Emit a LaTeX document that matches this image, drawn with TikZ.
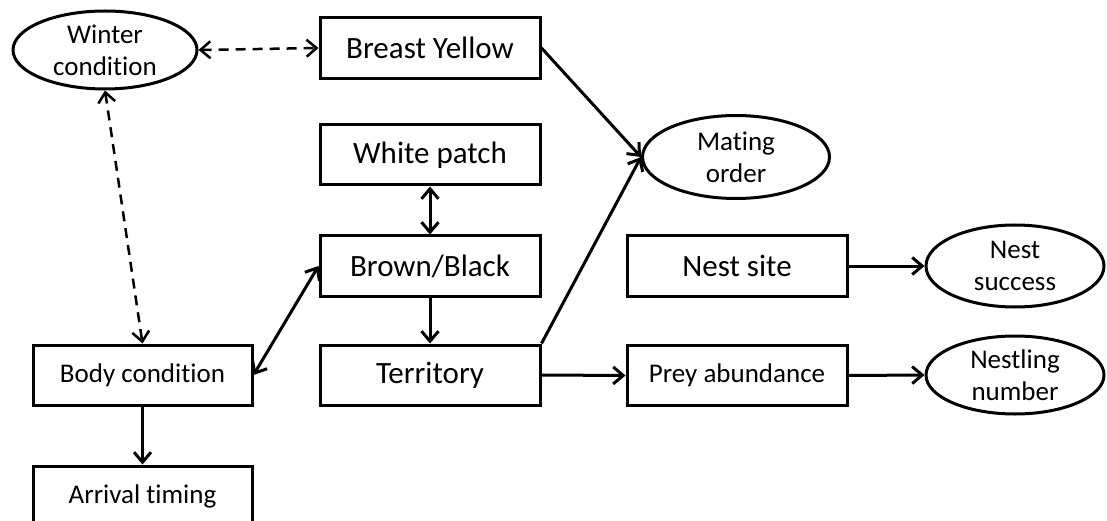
\documentclass[tikz,border=0pt]{standalone}
\usepackage{fontspec}
\setmainfont{Carlito}[Ligatures=NoCommon]
\usetikzlibrary{shapes.geometric,arrows.meta}
\begin{document}
\begin{tikzpicture}[x=1pt,y=-1pt,
  box/.style={draw,line width=3pt,rectangle,inner sep=0pt,minimum width=220pt,minimum height=60pt,font=\fontsize{31}{36}\selectfont},
  smallbox/.style={box,font=\fontsize{27}{32}\selectfont},
  oval/.style={draw,line width=3pt,ellipse,inner sep=0pt,align=center,font=\fontsize{27}{32}\selectfont},
  link/.style={line width=3pt,-{Straight Barb[length=10pt,width=17pt]}},
  twoway/.style={line width=3pt,{Straight Barb[length=10pt,width=17pt]}-{Straight Barb[length=10pt,width=17pt]}},
  dashlink/.style={twoway,line width=2.5pt,dash pattern=on 10pt off 7pt}]
\clip (0,0) rectangle (1107,521);

\node[oval,minimum width=184pt,minimum height=78pt] (WC) at (105,50) {Winter\\condition};
\node[box,minimum height=61pt] (BY) at (430,48) {Breast Yellow};
\node[box] (WP) at (430,155) {White patch};
\node[box] (BB) at (430,266) {Brown/Black};
\node[box] (TE) at (430,375) {Territory};
\node[smallbox,minimum width=219pt] (BC) at (142.5,375) {Body condition};
\node[smallbox,minimum width=219pt] (AT) at (142.5,496) {Arrival timing};
\node[oval,minimum width=187pt,minimum height=83pt] (MO) at (736,157) {Mating\\order};
\node[box] (NS) at (737,266) {Nest site};
\node[smallbox] (PA) at (737,375.5) {Prey abundance};
\node[oval,minimum width=178pt,minimum height=82pt] (SU) at (1015,266) {Nest\\success};
\node[oval,minimum width=178pt,minimum height=78pt] (NN) at (1015,375) {Nestling\\number};

\draw[dashlink] (WC.east) -- (BY.west);
\draw[dashlink] (WC.south) -- (BC.north);
\draw[twoway] (BC.east) -- (BB.west);
\draw[link] (BC.south) -- (AT.north);
\draw[twoway] (WP.south) -- (BB.north);
\draw[link] (BB.south) -- (TE.north);
\draw[link] (BY.east) -- (MO.west);
\draw[link] (TE.north east) -- (MO.west);
\draw[link] (TE.east) -- (PA.west);
\draw[link] (NS.east) -- (SU.west);
\draw[link] (PA.east) -- (NN.west);
\end{tikzpicture}
\end{document}
